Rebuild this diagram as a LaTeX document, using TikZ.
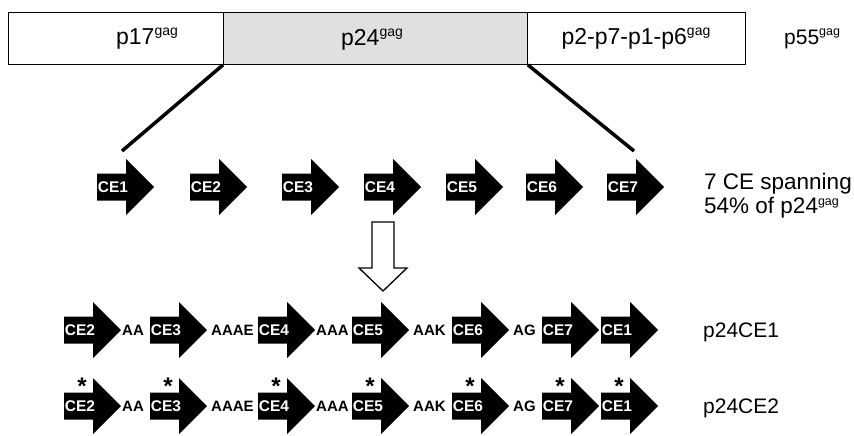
\documentclass[tikz,border=0pt]{standalone}
\usepackage{fontspec}
\setmainfont{Liberation Sans}
\definecolor{barfill}{HTML}{E0E0E0}
\newcommand{\sgag}{\raisebox{8.5pt}{\fontsize{12.5}{12}\selectfont gag}}
\newcommand{\tgag}{\raisebox{9pt}{\fontsize{14}{14}\selectfont gag}}
\tikzset{
  seg/.style={draw, line width=0.9pt, minimum height=52pt, inner sep=0pt, anchor=north west},
  lbl/.style={font=\fontsize{21}{24}\selectfont, inner sep=0pt},
  toplbl/.style={font=\fontsize{23}{24}\selectfont, inner sep=0pt},
  link/.style={font=\bfseries\fontsize{15}{16}\selectfont, inner sep=0pt, anchor=west},
  celabel/.style={text=white, font=\bfseries\fontsize{15.5}{16}\selectfont, inner sep=0pt},
  star/.style={font=\bfseries\fontsize{24}{24}\selectfont, inner sep=0pt, anchor=north},
  zoomline/.style={line width=3.5pt},
  pics/cearrow/.style={code={
    \fill (0,-13.5) -- (29,-13.5) -- (29,-28) -- (57,0) -- (29,28) -- (29,13.5) -- (0,13.5) -- cycle;
    \node[celabel] (-t) at (16,0) {#1};
  }}
}
\begin{document}
\begin{tikzpicture}[x=1pt, y=-1pt]
\useasboundingbox (0,0) rectangle (854,436);
% top bar
\node[seg, minimum width=215pt] (seg1) at (8,12) {};
\node[seg, minimum width=304pt, fill=barfill] (seg2) at (223,12) {};
\node[seg, minimum width=218pt] (seg3) at (527,12) {};
\node[toplbl] (t17) at (147,39) {p17\tgag};
\node[toplbl] (t24) at (372,40) {p24\tgag};
\node[toplbl] (t2) at (636,39) {p2-p7-p1-p6\tgag};
\node[lbl, anchor=west] (t55) at (784,39) {p55\sgag};
% zoom lines
\coordinate (z1) at (122,151);
\coordinate (z7) at (634,151);
\draw[zoomline] (seg2.south west) -- (z1);
\draw[zoomline] (seg2.south east) -- (z7);
% middle row
\pic (m1) at (97,187) {cearrow=CE1};
\pic (m2) at (190,187) {cearrow=CE2};
\pic (m3) at (282,187) {cearrow=CE3};
\pic (m4) at (364,187) {cearrow=CE4};
\pic (m5) at (446,187) {cearrow=CE5};
\pic (m6) at (526,187) {cearrow=CE6};
\pic (m7) at (607,187) {cearrow=CE7};
\node[lbl, anchor=west, align=left, font=\fontsize{22.5}{24}\selectfont] (span) at (704,196) {7 CE spanning\\54\% of p24\sgag};
% hollow arrow
\draw[line width=1.3pt, fill=white] (372,222) -- (372,268) -- (359,268) -- (383,291) -- (407,268) -- (394,268) -- (394,222) -- cycle;
% rows
\foreach \r/\yy in {a/330, b/406} {
  \pic (\r2) at (64,\yy) {cearrow=CE2};
  \node[link] (\r l1) at (122,\yy) {AA};
  \pic (\r3) at (150,\yy) {cearrow=CE3};
  \node[link] (\r l2) at (211,\yy) {AAAE};
  \pic (\r4) at (258,\yy) {cearrow=CE4};
  \node[link] (\r l3) at (316,\yy) {AAA};
  \pic (\r5) at (352,\yy) {cearrow=CE5};
  \node[link] (\r l4) at (413,\yy) {AAK};
  \pic (\r6) at (452,\yy) {cearrow=CE6};
  \node[link] (\r l5) at (513,\yy) {AG};
  \pic (\r7) at (542,\yy) {cearrow=CE7};
  \pic (\r1) at (601,\yy) {cearrow=CE1};
}
\foreach \x [count=\i] in {64,150,258,352,452,542,601} {
  \node[star] (s\i) at (\x+18,378) {*};
}
\node[lbl, anchor=west] (p1) at (703,332) {p24CE1};
\node[lbl, anchor=west] (p2) at (703,408) {p24CE2};
\end{tikzpicture}
\end{document}
